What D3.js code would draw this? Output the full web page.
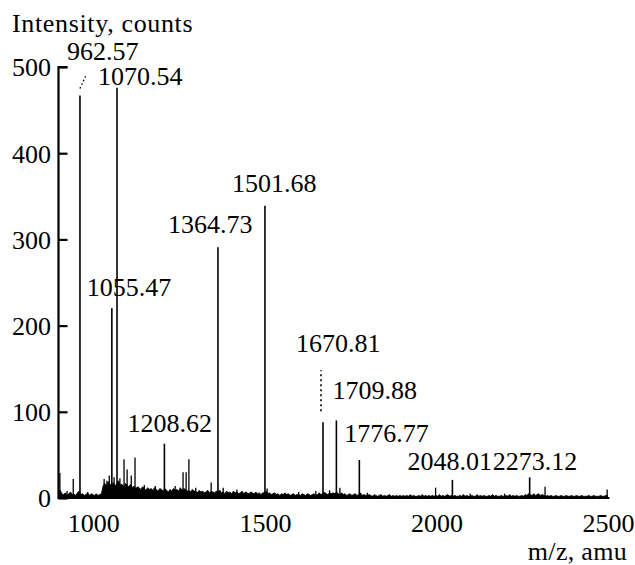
<!DOCTYPE html>
<html><head><meta charset="utf-8">
<script src="https://cdn.jsdelivr.net/npm/d3@7"></script>
<style>
html,body{margin:0;padding:0;background:#fff;}
</style></head>
<body><svg id="chart" width="635" height="565"></svg>
<script>
// ---- data ----
const yTicks = [0, 100, 200, 300, 400, 500];
const xTicks = [1000, 1500, 2000, 2500];
const yTitle = "Intensity, counts";
const xTitle = "m/z, amu";

// labelled peaks
const peakMz    = [962.57, 1055.47, 1070.54, 1208.62, 1364.73, 1501.68, 1670.81, 1709.88, 1776.77, 2048.01, 2273.12];
const peakInt   = [467, 220, 476, 63, 291, 339, 88, 90, 44, 21, 24];
const peakLabel = ["962.57", "1055.47", "1070.54", "1208.62", "1364.73", "1501.68", "1670.81", "1709.88", "1776.77", "2048.01", "2273.12"];

// minor unlabelled peaks
const minorMz  = [904, 925, 943, 985, 1033, 1041, 1048, 1062, 1079, 1091, 1100, 1112, 1123, 1150, 1182, 1240, 1263, 1272, 1280, 1300, 1345, 1380, 1420, 1508, 1600, 1650, 1690, 1720, 1800, 1999, 2100, 2200, 2318, 2499];
const minorInt = [29, 8, 22, 7, 22, 20, 26, 24, 23, 45, 33, 26, 47, 15, 14, 14, 30, 30, 45, 12, 18, 12, 10, 11, 7, 8, 9, 12, 6, 12, 5, 5, 13, 10];

// baseline noise, every 5 amu from 900 to 2500
const noiseStart = 900, noiseStep = 5;
const noise = [
  6,9,5,4,6,3,5,7,4,5,3,6,8,4,5,3,4,6,3,5,
  4,3,5,3,4,5,14,17,13,19,16,15,18,14,17,20,15,16,13,17,
  15,13,16,12,14,11,13,12,10,13,11,9,12,10,11,9,12,10,8,11,
  10,8,11,9,7,10,8,11,9,10,8,12,9,11,10,8,9,7,10,8,
  8,6,9,7,8,6,7,9,6,8,7,6,8,7,9,6,7,5,8,6,
  7,5,8,6,7,5,6,8,5,7,6,5,7,6,5,7,5,6,4,6,
  6,8,5,6,4,5,6,4,5,3,5,4,6,4,5,3,4,5,3,4,
  4,3,5,4,3,5,4,3,4,5,3,4,6,4,5,7,5,4,6,5,
  6,5,7,5,4,6,4,5,3,4,5,3,4,5,3,4,6,3,4,3,
  3,4,3,2,4,3,2,3,4,2,3,2,3,4,2,3,2,3,2,3,
  2,3,2,3,2,4,2,3,2,2,3,2,4,2,3,2,3,2,3,2,
  3,2,4,2,3,2,3,4,2,3,2,3,2,2,3,2,4,2,3,2,
  2,3,2,2,4,2,3,2,3,2,2,3,2,4,2,3,2,2,3,2,
  2,3,2,4,2,3,2,3,2,2,3,2,4,3,5,4,3,5,3,4,
  5,3,4,3,2,3,2,3,2,2,3,2,2,3,2,2,3,2,2,3,
  2,2,3,2,2,3,2,2,2,3,2,2,3,2,2,2,3,2,2,3,
  3
];

// ---- layout ----
const FONT = "'Liberation Serif', Tinos, 'Times New Roman', Times, 'DejaVu Serif', serif";
const svg = d3.select("#chart");
const x = d3.scaleLinear().domain([900, 2500]).range([58.5, 607.5]);
const y = d3.scaleLinear().domain([0, 500]).range([498, 67]);

// label offsets (px) relative to peak top: [dx, dy]
const labelOff = {
  "962.57": [-13, -35], "1055.47": [-25, -12], "1070.54": [-19, -3],
  "1208.62": [-37, -12], "1364.73": [-50, -14], "1501.68": [-33, -14],
  "1670.81": [-27, -70], "1709.88": [-4, -21], "1776.77": [-15, -18],
  "2048.01": [-45, -10], "2273.12": [-37, -7]
};

function txt(sel) {
  return sel.attr("font-family", FONT).attr("font-size", 26).attr("fill", "#000");
}

// noise area
const noisePts = noise.map((v, i) => [noiseStart + i * noiseStep, v]);
svg.append("path")
  .datum(noisePts)
  .attr("d", d3.area().x(d => x(d[0])).y0(y(0)).y1(d => y(d[1])))
  .attr("fill", "#000").attr("stroke", "#000").attr("stroke-width", 0.8);

// minor peaks
svg.append("g").selectAll("line").data(minorMz.map((m, i) => [m, minorInt[i]])).join("line")
  .attr("x1", d => x(d[0])).attr("x2", d => x(d[0]))
  .attr("y1", y(0)).attr("y2", d => y(d[1]))
  .attr("stroke", "#000").attr("stroke-width", 1.3);

// main peaks
const peaks = peakMz.map((m, i) => ({mz: m, v: peakInt[i], label: peakLabel[i]}));
svg.append("g").selectAll("line").data(peaks).join("line")
  .attr("x1", d => x(d.mz)).attr("x2", d => x(d.mz))
  .attr("y1", y(0)).attr("y2", d => y(d.v))
  .attr("stroke", "#000").attr("stroke-width", 1.6);

// labels
svg.append("g").selectAll("text").data(peaks).join("text")
  .call(txt)
  .attr("x", d => x(d.mz) + labelOff[d.label][0])
  .attr("y", d => y(d.v) + labelOff[d.label][1])
  .text(d => d.label);

// dotted connectors
const p962 = peaks[0], p1670 = peaks[6];
svg.append("line")
  .attr("x1", x(p962.mz)).attr("y1", y(p962.v) - 7)
  .attr("x2", x(p962.mz) + 6).attr("y2", y(p962.v) - 20)
  .attr("stroke", "#000").attr("stroke-width", 1.4).attr("stroke-dasharray", "1.5,2.5");
svg.append("line")
  .attr("x1", x(p1670.mz) - 2).attr("y1", y(p1670.v) - 11)
  .attr("x2", x(p1670.mz) - 2).attr("y2", y(p1670.v) - 52)
  .attr("stroke", "#000").attr("stroke-width", 1.6).attr("stroke-dasharray", "2,3");

// y axis
const yAxis = d3.axisRight(y).tickValues(yTicks).tickSize(9).tickFormat("");
const gy = svg.append("g").attr("transform", `translate(${x(900)},0)`).call(yAxis);
gy.select(".domain").attr("d", `M${9},${y(500)}H0V${y(0)}`).attr("stroke-width", 2.2);
gy.selectAll(".tick line").attr("stroke-width", 2.2);
svg.append("g").selectAll("text").data(yTicks).join("text")
  .call(txt)
  .attr("x", 51).attr("y", d => y(d)).attr("dy", "0.36em")
  .attr("text-anchor", "end").text(d => d);

// x axis
const xAxis = d3.axisBottom(x).tickValues(xTicks).tickSize(0).tickFormat("");
const gx = svg.append("g").attr("transform", `translate(0,${y(0)})`).call(xAxis);
gx.select(".domain").attr("d", `M${x(900) - 1},0H${x(2500) + 2}`).attr("stroke-width", 2.2);
svg.append("g").selectAll("text").data(xTicks).join("text")
  .call(txt)
  .attr("x", d => x(d) + 1).attr("y", 532)
  .attr("text-anchor", "middle").text(d => d);

// titles
svg.append("text").call(txt).attr("x", 12).attr("y", 32).attr("letter-spacing", 0.65).text(yTitle);
svg.append("text").call(txt).attr("x", 627).attr("y", 560).attr("text-anchor", "end").attr("letter-spacing", 0.3).text(xTitle);
</script></body></html>
